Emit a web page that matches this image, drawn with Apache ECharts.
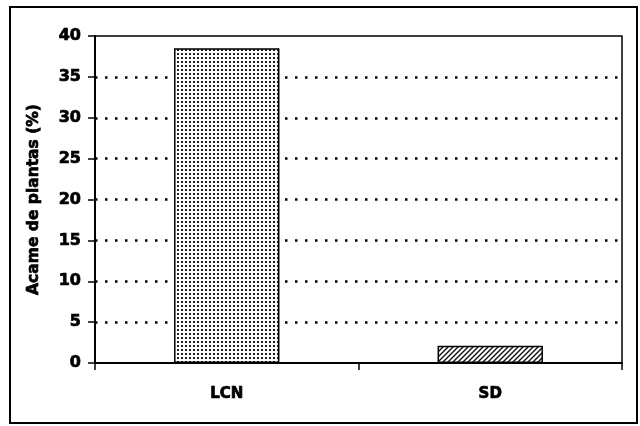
<!DOCTYPE html>
<html>
<head>
<meta charset="utf-8">
<script src="https://cdn.jsdelivr.net/npm/echarts@6/dist/echarts.min.js"></script>
<style>
  html, body { margin: 0; padding: 0; background: #fff; }
  #chart { width: 640px; height: 426px; }
</style>
</head>
<body>
<div id="chart"></div>
<script>
// Plant lodging by treatment
const categories = ['LCN', 'SD'];
const lodging = [38.5, 2.1];
const yAxisName = 'Acame de plantas (%)';

// Stippled fill for the first bar
function dotPattern() {
  const c = document.createElement('canvas');
  c.width = 4; c.height = 4;
  const g = c.getContext('2d');
  g.fillStyle = '#fff';
  g.fillRect(0, 0, 4, 4);
  g.fillStyle = '#222';
  g.fillRect(1, 1, 2, 2);
  return c;
}

// Diagonal hatch for the second bar
function hatchPattern() {
  const s = 5;
  const c = document.createElement('canvas');
  c.width = s; c.height = s;
  const g = c.getContext('2d');
  g.fillStyle = '#fff';
  g.fillRect(0, 0, s, s);
  g.strokeStyle = '#111';
  g.lineWidth = 1.4;
  g.beginPath();
  g.moveTo(-1, s + 1); g.lineTo(s + 1, -1);
  g.moveTo(-1, 1); g.lineTo(1, -1);
  g.moveTo(s - 1, s + 1); g.lineTo(s + 1, s - 1);
  g.stroke();
  return c;
}

const fills = [
  { image: dotPattern(), repeat: 'repeat' },
  { image: hatchPattern(), repeat: 'repeat' }
];

const chart = echarts.init(document.getElementById('chart'), null, { renderer: 'canvas' });

const font = 'DejaVu Sans';
const heavy = { textBorderColor: '#000', textBorderWidth: 0.7 };

chart.setOption({
  backgroundColor: '#fff',
  animation: false,
  grid: {
    left: 95, right: 18, top: 36, bottom: 63,
    show: true, borderColor: '#000', borderWidth: 1.5, backgroundColor: 'transparent'
  },
  graphic: [{
    type: 'rect',
    shape: { x: 10, y: 7, width: 627, height: 416 },
    style: { fill: 'none', stroke: '#000', lineWidth: 2 },
    silent: true
  }],
  xAxis: {
    type: 'category',
    data: categories,
    axisLine: { lineStyle: { color: '#000', width: 2 } },
    axisTick: { show: true, length: 7, lineStyle: { color: '#000', width: 1.5 } },
    axisLabel: Object.assign({ color: '#000', fontFamily: font, fontWeight: 'bold', fontSize: 15, margin: 24 }, heavy),
    splitLine: { show: false }
  },
  yAxis: {
    type: 'value',
    min: 0, max: 40, interval: 5,
    name: yAxisName,
    nameLocation: 'middle',
    nameGap: 53,
    nameRotate: 90,
    nameTextStyle: Object.assign({ color: '#000', fontFamily: font, fontWeight: 'bold', fontSize: 15.5 }, heavy),
    axisLine: { show: true, lineStyle: { color: '#000', width: 2 } },
    axisTick: { show: true, length: 7, lineStyle: { color: '#000', width: 1.5 } },
    axisLabel: Object.assign({ color: '#000', fontFamily: font, fontWeight: 'bold', fontSize: 16, margin: 14 }, heavy),
    splitLine: {
      show: true, showMinLine: false, showMaxLine: false,
      lineStyle: { color: '#000', width: 2.5, type: [2.5, 7.5] }
    }
  },
  series: [{
    type: 'bar',
    barWidth: '40%',
    data: lodging.map((v, i) => ({
      value: v,
      itemStyle: { color: fills[i], borderColor: '#000', borderWidth: 1.5 }
    })),
    z: 3
  }]
});
</script>
</body>
</html>
